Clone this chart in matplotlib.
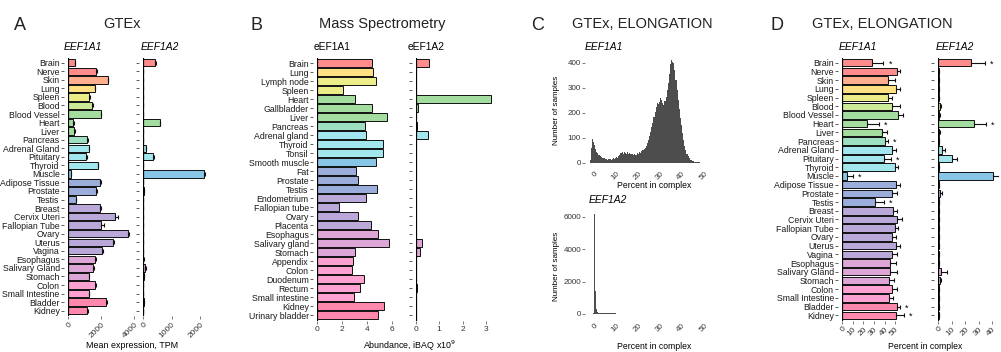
import numpy as np
import matplotlib
matplotlib.use("Agg")
import matplotlib.pyplot as plt

plt.rcParams["font.family"] = ["Liberation Sans", "DejaVu Sans"]

# --- data: panel A (GTEx, TPM) ---
gtex_tissues = ["Brain", "Nerve", "Skin", "Lung", "Spleen", "Blood", "Blood Vessel", "Heart",
                "Liver", "Pancreas", "Adrenal Gland", "Pituitary", "Thyroid", "Muscle",
                "Adipose Tissue", "Prostate", "Testis", "Breast", "Cervix Uteri", "Fallopian Tube",
                "Ovary", "Uterus", "Vagina", "Esophagus", "Salivary Gland", "Stomach", "Colon",
                "Small Intestine", "Bladder", "Kidney"]
a_eef1a1 = [420, 1700, 2380, 1600, 1290, 1450, 1960, 320, 380, 1170, 1250, 1110, 1780, 180,
            1940, 1700, 480, 1940, 2800, 2000, 3620, 2690, 2040, 1640, 1520, 1250, 1650, 1250,
            2260, 1150]
a_eef1a1_err = [30, 40, 50, 40, 40, 80, 40, 20, 20, 40, 40, 40, 50, 20, 40, 40, 20, 40, 200,
                160, 70, 60, 50, 40, 50, 40, 40, 40, 90, 60]
a_eef1a2 = [430, 15, 10, 8, 5, 5, 10, 585, 8, 10, 95, 360, 10, 2150, 10, 40, 5, 8, 8, 8, 5, 8,
            8, 15, 70, 30, 10, 10, 20, 10]
a_eef1a2_err = [10, 2, 2, 2, 1, 1, 2, 10, 2, 2, 8, 10, 2, 40, 2, 10, 1, 2, 2, 2, 1, 2, 2, 3,
                30, 8, 2, 2, 5, 2]

# --- data: panel B (mass spectrometry, iBAQ x1e9) ---
ms_tissues = ["Brain", "Lung", "Lymph node", "Spleen", "Heart", "Gallbladder", "Liver",
              "Pancreas", "Adrenal gland", "Thyroid", "Tonsil", "Smooth muscle", "Fat",
              "Prostate", "Testis", "Endometrium", "Fallopian tube", "Ovary", "Placenta",
              "Esophagus", "Salivary gland", "Stomach", "Appendix", "Colon", "Duodenum",
              "Rectum", "Small intestine", "Kidney", "Urinary bladder"]
b_eef1a1 = [4.42, 4.5, 4.7, 2.1, 3.07, 4.37, 5.57, 3.87, 3.92, 5.3, 5.3, 4.72, 3.12, 3.25, 4.8,
            3.89, 1.79, 3.28, 4.29, 4.9, 5.79, 3.04, 2.91, 2.83, 3.76, 3.44, 2.96, 5.36, 4.9]
b_eef1a2 = [0.58, 0.01, 0.01, 0.01, 3.22, 0.11, 0.01, 0.04, 0.54, 0.01, 0.01, 0.02, 0.02, 0.03,
            0.03, 0.01, 0.01, 0.01, 0.01, 0.01, 0.26, 0.2, 0.01, 0.01, 0.01, 0.04, 0.01, 0.02,
            0.03]

# --- data: panel C (histograms of percent in complex) ---
c_a1_start, c_a1_width = -2.0, 0.5
c_a1_counts = [10, 60, 94, 85, 70, 55, 45, 38, 32, 27, 24, 21, 19, 18, 16, 15, 12, 14, 17, 13,
               16, 19, 15, 21, 24, 20, 27, 31, 38, 45, 36, 42, 40, 37, 42, 36, 38, 34, 37, 32,
               35, 30, 33, 38, 36, 44, 40, 47, 50, 55, 58, 66, 78, 92, 108, 125, 142, 160, 185,
               205, 225, 238, 236, 245, 258, 252, 240, 232, 248, 265, 290, 318, 355, 395, 410,
               405, 398, 370, 330, 290, 252, 215, 180, 150, 118, 90, 68, 50, 36, 26, 18, 13, 10,
               8, 6, 5, 4, 3, 2, 2, 1, 1]
c_a2_start, c_a2_width = -0.5, 0.5
c_a2_counts = [40, 6150, 1400, 320, 130, 80, 60, 50, 45, 42, 40, 38, 36, 35, 34, 33, 32, 31,
               30, 30, 29, 28, 28, 27, 27, 26, 26, 25, 25, 24, 24, 23, 23, 22, 22, 21, 21, 20,
               20, 20, 19, 19, 18, 18, 18, 17, 17, 17, 16, 16, 16, 15, 15, 15, 14, 14, 14, 13,
               13, 13, 12, 12, 12, 12, 11, 11, 11, 11, 10, 10, 10, 10, 9, 9, 9, 9, 8, 8, 8, 8,
               7, 7, 7, 6, 6, 6, 5, 5, 4, 4, 3, 3, 2, 2]

# --- data: panel D (GTEx, percent in elongation complex) ---
d_eef1a1 = [28.3, 51.3, 43.4, 50.3, 43.4, 46.5, 52.8, 23.6, 37.7, 40.0, 47.2, 39.3, 49.7, 4.7,
            50.9, 47.2, 30.5, 48.1, 51.3, 49.7, 47.2, 50.9, 47.2, 45.0, 45.3, 43.7, 46.5, 43.7,
            51.3, 50.9]
d_eef1a1_err = [10.4, 3.1, 6.3, 4.4, 3.1, 7.9, 4.1, 11.0, 4.1, 3.1, 3.5, 6.6, 3.1, 5.0, 3.8,
                4.1, 8.5, 3.1, 4.7, 3.1, 3.1, 3.8, 4.1, 5.7, 6.0, 5.0, 4.7, 4.4, 3.1, 6.9]
d_eef1a1_sig = [1, 0, 0, 0, 0, 0, 0, 1, 0, 1, 0, 1, 0, 1, 0, 0, 1, 0, 0, 0, 0, 0, 0, 0, 0, 0,
                0, 0, 1, 1]
d_eef1a2 = [24.0, 0.5, 0.3, 0.2, 0.2, 1.0, 0.6, 26.4, 0.6, 0.4, 3.0, 10.4, 0.5, 40.7, 0.3, 1.2,
            0.3, 0.3, 0.3, 0.3, 0.2, 0.2, 0.5, 0.4, 1.8, 1.0, 0.4, 0.4, 0.5, 0.3]
d_eef1a2_err = [10.6, 0.3, 0.2, 0.2, 0.2, 1.0, 0.5, 8.6, 0.4, 0.3, 2.0, 3.2, 0.3, 5.0, 0.2, 1.5,
                0.2, 0.2, 0.2, 0.2, 0.2, 0.2, 0.3, 0.3, 4.5, 0.8, 0.3, 0.3, 0.3, 0.2]
d_eef1a2_sig = [1, 0, 0, 0, 0, 0, 0, 1, 0, 0, 0, 0, 0, 0, 0, 0, 0, 0, 0, 0, 0, 0, 0, 0, 0, 0,
                0, 0, 0, 0]

# --- style ---
RED, PEACH, YEL, YEL2, LGRN = "#FF8C8C", "#FFAE8E", "#FFE184", "#ECEC88", "#CDEA98"
GRN, MINT, CYAN, SKY = "#A3DDA0", "#9EDFC2", "#A2E6EE", "#88C6E8"
SLATE, LAV, ORCH, PINK, HPINK = "#9BAEDB", "#B9A8D8", "#DDA6D6", "#FFA2D2", "#FF88AC"
EDGE = "#111111"
TICK = "#444444"

gtex_colors = [RED, RED, PEACH, YEL, YEL2, LGRN, GRN, GRN, GRN, MINT, CYAN, CYAN, CYAN, SKY,
               SLATE, SLATE, SLATE, LAV, LAV, LAV, LAV, LAV, LAV, ORCH, ORCH, ORCH, PINK, PINK,
               HPINK, HPINK]
ms_colors = [RED, YEL, YEL2, YEL2, GRN, GRN, GRN, MINT, CYAN, CYAN, CYAN, SKY, SLATE, SLATE,
             SLATE, LAV, LAV, LAV, LAV, ORCH, ORCH, ORCH, PINK, PINK, PINK, PINK, PINK, HPINK,
             HPINK]

W, H = 1001, 352
fig = plt.figure(figsize=(W / 100, H / 100), dpi=100, facecolor="white")


def px_axes(x0, x1, y0, y1):
    return fig.add_axes([x0 / W, 1 - y1 / H, (x1 - x0) / W, (y1 - y0) / H])


def ftext(x, y, s, **kw):
    fig.text(x / W, 1 - y / H, s, **kw)


def bar_panel(box, values, colors, xlim, xticks, labels=None, err=None, sig=None, rot=45,
              star_off=5):
    ax = px_axes(*box)
    n = len(values)
    y = np.arange(n)
    ax.barh(y, values, height=0.86, color=colors, edgecolor=EDGE, linewidth=0.7, zorder=2)
    if err is not None:
        ax.errorbar(values, y, xerr=[np.zeros(n), err], fmt="none", ecolor=EDGE,
                    elinewidth=0.8, capsize=1.6, capthick=0.8, zorder=3)
    if sig is not None:
        ends = np.asarray(values) + np.asarray(err)
        for yi, xe, s in zip(y, ends, sig):
            if s:
                ax.annotate("*", (xe, yi), xytext=(star_off, -1), textcoords="offset points",
                            ha="center", va="center", fontsize=6.5, annotation_clip=False)
    ax.set_xlim(*xlim)
    ax.set_ylim(n - 0.4, -0.6)
    ax.axvline(0, color="black", lw=0.9, zorder=4)
    for s in ax.spines.values():
        s.set_visible(False)
    ax.spines["left"].set_position(("outward", 3))
    ax.set_yticks(y)
    ax.set_yticklabels(labels if labels is not None else [])
    ax.tick_params(axis="y", length=2, width=0.6, color=TICK, pad=1, labelsize=6.3,
                   labelcolor="#1a1a1a")
    ax.set_xticks(xticks)
    if rot:
        ax.set_xticklabels([str(t) for t in xticks], rotation=rot, ha="right",
                           rotation_mode="anchor")
    else:
        ax.set_xticklabels([str(t) for t in xticks])
    ax.tick_params(axis="x", length=2, width=0.5, color=TICK, pad=1.5, labelsize=6,
                   labelcolor="#333333")
    ax.set_facecolor("none")
    return ax


def hist_panel(box, start, width, counts, xlim, ylim, yticks):
    ax = px_axes(*box)
    edges = start + width * np.arange(len(counts))
    ax.bar(edges, counts, width=width, align="edge", color="#4D4D4D", linewidth=0)
    ax.set_xlim(*xlim)
    ax.set_ylim(*ylim)
    for s in ax.spines.values():
        s.set_visible(False)
    ax.set_yticks(yticks)
    ax.tick_params(axis="y", length=2, width=0.5, color=TICK, pad=1, labelsize=5.8,
                   labelcolor="#333333")
    xt = [0, 10, 20, 30, 40, 50]
    ax.set_xticks(xt)
    ax.set_xticklabels([str(t) for t in xt], rotation=45, ha="right", rotation_mode="anchor")
    ax.tick_params(axis="x", length=0, pad=3, labelsize=5.8, labelcolor="#333333")
    return ax


# panel A
bar_panel((68, 138.6, 57.6, 315.8), a_eef1a1, gtex_colors, (0, 4250), [0, 2000, 4000],
          labels=gtex_tissues, err=a_eef1a1_err)
bar_panel((143, 210, 57.6, 315.8), a_eef1a2, gtex_colors, (0, 2350), [0, 1000, 2000],
          err=a_eef1a2_err)
ftext(19.5, 25, "A", fontsize=13, ha="center", va="center", color="#222222")
ftext(122, 24, "GTEx", fontsize=10.5, ha="center", va="center", color="#222222")
ftext(83, 47.5, "EEF1A1", fontsize=7.4, style="italic", ha="center", va="center")
ftext(160, 47.5, "EEF1A2", fontsize=7.4, style="italic", ha="center", va="center")
ftext(132, 345.5, "Mean expression, TPM", fontsize=6.4, ha="center", va="center")

# panel B
bar_panel((317, 404.5, 57.9, 320.7), b_eef1a1, ms_colors, (0, 7), [0, 2, 4, 6],
          labels=ms_tissues, rot=0)
bar_panel((415.7, 493, 57.9, 320.7), b_eef1a2, ms_colors, (0, 3.3), [0, 1, 2, 3], rot=0)
ftext(256, 25, "B", fontsize=13, ha="center", va="center", color="#222222")
ftext(382, 24, "Mass Spectrometry", fontsize=10.5, ha="center", va="center", color="#222222")
ftext(332, 47.5, "eEF1A1", fontsize=7.4, ha="center", va="center")
ftext(426, 47.5, "eEF1A2", fontsize=7.4, ha="center", va="center")
ftext(409, 345.5, r"Abundance, iBAQ x10$^9$", fontsize=6.4, ha="center", va="center")

# panel C
hist_panel((585.2, 708.4, 56.5, 166.5), c_a1_start, c_a1_width, c_a1_counts, (-4, 52),
           (-15, 425), [0, 100, 200, 300, 400])
hist_panel((585.2, 708.4, 212, 318), c_a2_start, c_a2_width, c_a2_counts, (-4, 52),
           (-250, 6300), [0, 2000, 4000, 6000])
ftext(538, 25, "C", fontsize=13, ha="center", va="center", color="#222222")
ftext(642, 24, "GTEx, ELONGATION", fontsize=10.5, ha="center", va="center", color="#222222")
ftext(604, 47, "EEF1A1", fontsize=7.4, style="italic", ha="center", va="center")
ftext(608, 200, "EEF1A2", fontsize=7.4, style="italic", ha="center", va="center")
ftext(556, 110, "Number of samples", fontsize=5.8, rotation=90, ha="center", va="center")
ftext(556, 266, "Number of samples", fontsize=5.8, rotation=90, ha="center", va="center")
ftext(654, 186, "Percent in complex", fontsize=6.2, ha="center", va="center")
ftext(654, 346.5, "Percent in complex", fontsize=6.2, ha="center", va="center")

# panel D
bar_panel((842.3, 918.6, 57.5, 320.5), d_eef1a1, gtex_colors, (0, 72), [0, 10, 20, 30, 40, 50],
          labels=gtex_tissues, err=d_eef1a1_err, sig=d_eef1a1_sig)
bar_panel((938.3, 999, 57.5, 320.5), d_eef1a2, gtex_colors, (0, 45), [0, 10, 20, 30, 40],
          err=d_eef1a2_err, sig=d_eef1a2_sig)
ftext(776.5, 25, "D", fontsize=13, ha="center", va="center", color="#222222")
ftext(882, 24, "GTEx, ELONGATION", fontsize=10.5, ha="center", va="center", color="#222222")
ftext(858, 47.5, "EEF1A1", fontsize=7.4, style="italic", ha="center", va="center")
ftext(955, 47.5, "EEF1A2", fontsize=7.4, style="italic", ha="center", va="center")
ftext(925, 346.5, "Percent in complex", fontsize=6.2, ha="center", va="center")

fig.savefig("out.png", dpi=100, facecolor="white")
